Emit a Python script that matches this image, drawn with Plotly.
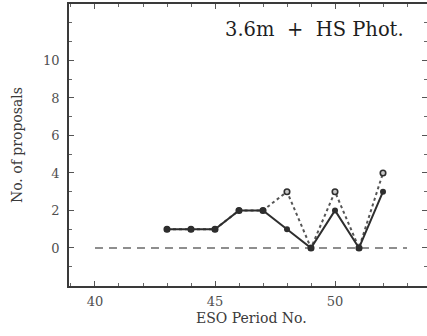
import plotly.graph_objects as go

# ESO periods and proposal counts for the 3.6m + HS photometer
periods = [43, 44, 45, 46, 47, 48, 49, 50, 51, 52]
allocated = [1, 1, 1, 2, 2, 1, 0, 2, 0, 3]
requested = [1, 1, 1, 2, 2, 3, 0, 3, 0, 4]
zero_span = [40, 53]
x_ticks = [40, 45, 50]
y_ticks = [0, 2, 4, 6, 8, 10]

ink = "#2e2e2e"
serif = "DejaVu Serif, Liberation Serif, serif"

fig = go.Figure()

# reference line at zero
fig.add_trace(go.Scatter(
    x=zero_span, y=[0, 0], mode="lines",
    line=dict(color="#6a6a6a", width=1.4, dash="8px,6px"),
    hoverinfo="skip", showlegend=False))

# requested (dotted, open circles)
fig.add_trace(go.Scatter(
    x=periods, y=requested, mode="lines+markers",
    line=dict(color="#555555", width=2, dash="dot"),
    marker=dict(size=5.5, color="#c8c8c8", line=dict(color=ink, width=1.6)),
    showlegend=False))

# allocated (solid, filled circles)
fig.add_trace(go.Scatter(
    x=periods, y=allocated, mode="lines+markers",
    line=dict(color=ink, width=2),
    marker=dict(size=6, color=ink),
    showlegend=False))

axis_common = dict(
    showgrid=False, zeroline=False, showline=True, linecolor="#3a3a3a",
    linewidth=1.5, mirror="allticks", ticks="inside", ticklen=5,
    tickcolor="#555555", tickwidth=1,
    tickfont=dict(family=serif, size=13, color="#505050"),
)

fig.update_xaxes(
    range=[38.917, 53.833], tickvals=x_ticks,
    minor=dict(dtick=1, tick0=0, ticks="inside", ticklen=3, tickcolor="#666666"),
    ticklabelstandoff=3,
    **axis_common)
fig.update_yaxes(
    range=[-2.03, 13.01], tickvals=y_ticks,
    minor=dict(dtick=1, tick0=0, ticks="inside", ticklen=3, tickcolor="#666666"),
    ticklabelstandoff=5,
    **axis_common)

fig.update_layout(
    template="none",
    width=427, height=336,
    margin=dict(l=69, r=0, t=4, b=50, pad=0),
    paper_bgcolor="white", plot_bgcolor="white",
    font=dict(family=serif, color="#3a3a3a"),
    annotations=[
        dict(text="3.6m  +  HS Phot.", x=52.95, y=11.65, xref="x", yref="y",
             xanchor="right", yanchor="middle", showarrow=False,
             font=dict(family=serif, size=19.5, color="#1e1e1e")),
        dict(text="ESO Period No.", x=0.511, y=-0.113, xref="paper", yref="paper",
             xanchor="center", yanchor="middle", showarrow=False,
             font=dict(family=serif, size=14, color="#3a3a3a")),
        dict(text="No. of proposals", x=-0.145, y=0.5, xref="paper", yref="paper",
             xanchor="center", yanchor="middle", textangle=-90, showarrow=False,
             font=dict(family=serif, size=14, color="#3a3a3a")),
    ],
)

fig.write_html("out.html")
